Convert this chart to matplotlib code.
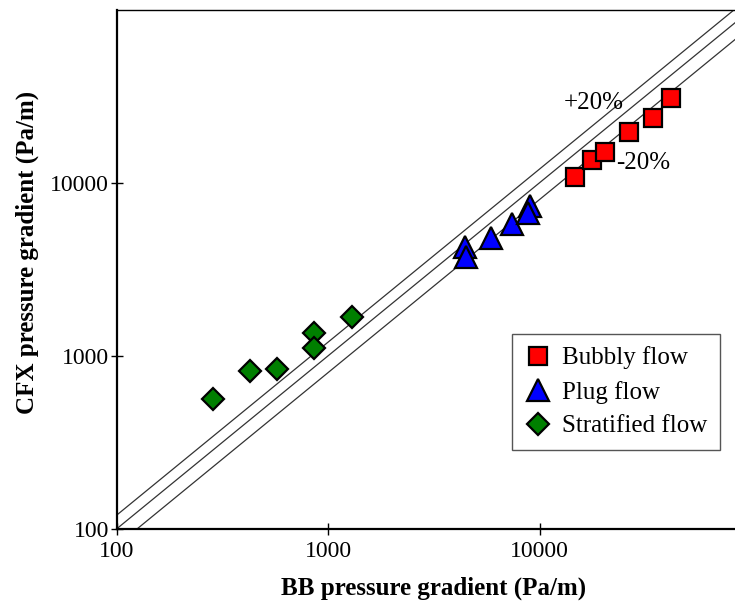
import matplotlib.pyplot as plt

# BB (x) vs CFX (y) pressure gradient, Pa/m
bubbly_x = [14640, 17680, 20450, 26450, 34340, 41600]
bubbly_y = [10830, 13510, 15030, 19600, 23700, 31060]

plug_x = [4454, 4500, 5909, 7396, 8968, 8805]
plug_y = [4221, 3731, 4780, 5754, 7340, 6714]

strat_x = [285, 428, 573, 857, 856, 1296]
strat_y = [559, 814, 833, 1348, 1105, 1682]

ref_x = [100, 100000]
band = [1.2, 1.0, 0.8]

plt.rcParams['font.family'] = ['Liberation Serif', 'DejaVu Serif']

fig = plt.figure(figsize=(7.35, 6.01), dpi=100)
ax = fig.add_axes([0.159, 0.1203, 0.8628, 0.8636])

for f in band:
    ax.plot(ref_x, [v * f for v in ref_x], color='#333333', lw=0.9, zorder=1)

ax.plot(bubbly_x, bubbly_y, 's', ms=12.5, mfc='#ff0000', mec='black', mew=1.6,
        ls='none', label='Bubbly flow', zorder=3)
ax.plot(plug_x, plug_y, '^', ms=15.5, mfc='#0000ff', mec='black', mew=1.6,
        ls='none', label='Plug flow', zorder=3)
ax.plot(strat_x, strat_y, 'D', ms=11, mfc='#007f00', mec='black', mew=1.6,
        ls='none', label='Stratified flow', zorder=3)

ax.text(18000, 28800, '+20%', fontsize=18, ha='center', va='center')
ax.text(31000, 13000, '-20%', fontsize=18, ha='center', va='center')

ax.set_xscale('log')
ax.set_yscale('log')
ax.set_xlim(100, 100000)
ax.set_ylim(100, 100000)
ax.set_xticks([100, 1000, 10000])
ax.set_yticks([100, 1000, 10000])
ax.set_xticklabels(['100', '1000', '10000'])
ax.set_yticklabels(['100', '1000', '10000'])
ax.minorticks_off()
ax.tick_params(direction='inout', length=9, width=1, labelsize=17, pad=1)
ax.tick_params(axis='x', pad=4)

ax.spines['left'].set_linewidth(1.6)
ax.spines['bottom'].set_linewidth(1.6)
ax.spines['top'].set_linewidth(1.0)
ax.spines['right'].set_visible(False)

ax.set_xlabel('BB pressure gradient (Pa/m)', fontsize=18, fontweight='bold', labelpad=11)
ax.set_ylabel('CFX pressure gradient (Pa/m)', fontsize=18, fontweight='bold')
ax.yaxis.set_label_coords(-0.123, 0.533)

leg = ax.legend(loc='lower right', bbox_to_anchor=(0.951, 0.152), borderaxespad=0,
                fontsize=18, fancybox=False, edgecolor='#555555', framealpha=1,
                handletextpad=0.4, labelspacing=0.45, borderpad=0.5, handlelength=1.1)
leg.get_frame().set_linewidth(1.0)

fig.savefig('out.png', dpi=100)
